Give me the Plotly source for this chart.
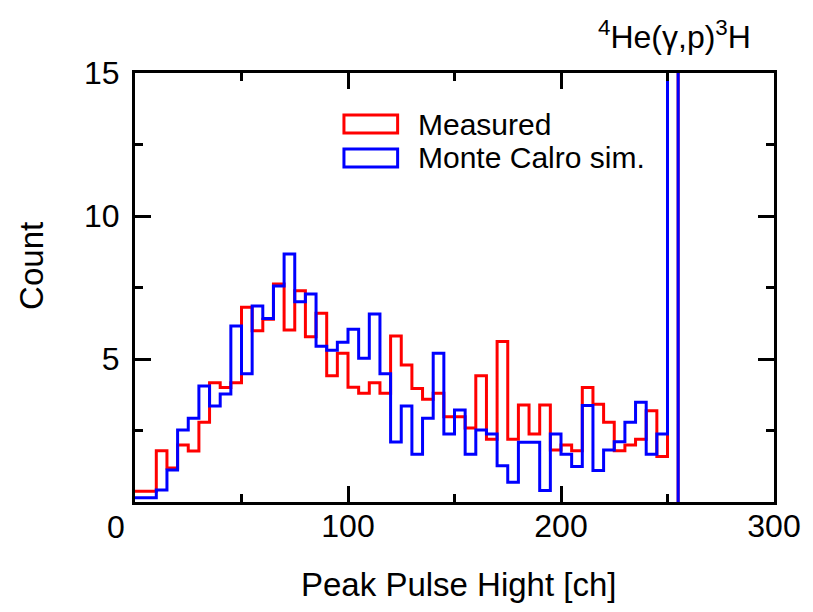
import plotly.graph_objects as go

# ---- data (5 ch bins, 0..255; last bin is the off-scale peak) ----
bin_width = 5
bin_edges = list(range(0, 255, bin_width))  # left edges 0..250
measured = [0.38, 0.38, 1.79, 1.19, 1.99, 1.78, 2.79, 4.17, 4.00, 4.17,
            6.81, 5.99, 6.39, 7.62, 6.01, 7.39, 5.78, 6.60, 4.41, 5.20,
            4.01, 3.80, 4.17, 3.80, 5.80, 4.79, 3.97, 3.59, 3.80, 2.98,
            2.98, 2.59, 4.41, 2.19, 5.61, 2.19, 3.39, 2.38, 3.39, 1.82,
            1.99, 1.79, 4.00, 3.42, 2.79, 1.79, 1.99, 2.19, 3.19, 1.59,
            40.0]
monte_carlo = [0.15, 0.15, 0.42, 1.12, 2.52, 2.93, 4.06, 3.36, 3.78, 6.15,
               4.48, 6.85, 6.42, 7.55, 8.67, 7.00, 7.27, 5.45, 5.31, 5.59,
               6.04, 5.03, 6.57, 4.48, 2.10, 3.36, 1.67, 2.93, 5.20, 2.38,
               3.22, 1.67, 2.52, 2.38, 1.27, 0.69, 2.09, 2.09, 0.40, 2.38,
               1.67, 1.24, 3.37, 1.10, 1.82, 2.11, 2.79, 3.49, 1.67, 2.38,
               40.0]
x_major_ticks = [100, 200, 300]
y_major_ticks = [5, 10, 15]

FONT = "Liberation Sans, Arial, sans-serif"


def step_xy(values):
    # histogram outline: close the last bin back down to zero
    xs = bin_edges + [bin_edges[-1] + bin_width]
    ys = values + [0]
    return xs, ys


fig = go.Figure()
for vals, col, name in [(measured, "#FF0000", "Measured"),
                        (monte_carlo, "#0000FF", "Monte Calro sim.")]:
    xs, ys = step_xy(vals)
    fig.add_trace(go.Scatter(x=xs, y=ys, mode="lines", line_shape="hv",
                             line=dict(color=col, width=3), name=name,
                             showlegend=False))

axis_common = dict(showline=True, linewidth=3, linecolor="black", mirror="ticks",
                   ticks="inside", tickwidth=3, tickcolor="black", ticklen=16,
                   showgrid=False, zeroline=False,
                   tickfont=dict(family=FONT, size=32, color="black"))

fig.update_xaxes(range=[0, 300], tickvals=x_major_ticks,
                 ticktext=[str(v) for v in x_major_ticks],
                 minor=dict(ticks="inside", ticklen=8, tickwidth=3, tickcolor="black",
                            dtick=50, tick0=0, showgrid=False),
                 ticklabelstandoff=-6,
                 **axis_common)
fig.update_yaxes(range=[0, 15], tickvals=y_major_ticks,
                 minor=dict(ticks="inside", ticklen=8, tickwidth=3, tickcolor="black",
                            dtick=2.5, tick0=0, showgrid=False),
                 ticklabelstandoff=6,
                 **axis_common)

ann_font = dict(family=FONT, size=32, color="black")
annotations = [
    dict(text="0", x=0, y=0, xref="x", yref="y", xshift=-19, yshift=-25,
         showarrow=False, font=ann_font, xanchor="center", yanchor="middle"),
    dict(text="Count", x=-0.163, y=0.55, xref="paper", yref="paper", textangle=-90,
         showarrow=False, font=dict(family=FONT, size=33, color="black"),
         xanchor="center", yanchor="middle"),
    dict(text="Peak Pulse Hight [ch]", x=0.507, y=-0.193, xref="paper", yref="paper",
         showarrow=False, font=dict(family=FONT, size=33, color="black"),
         xanchor="center", yanchor="middle"),
    dict(text="<sup>4</sup>He(γ,p)<sup>3</sup>H", x=0.845, y=1.089, xref="paper",
         yref="paper", showarrow=False, font=dict(family=FONT, size=32, color="black"),
         xanchor="center", yanchor="middle"),
    dict(text="Measured", x=0.439, y=0.881, xref="paper", yref="paper",
         showarrow=False, font=dict(family=FONT, size=30, color="black"),
         xanchor="left", yanchor="middle"),
    dict(text="Monte Calro sim.", x=0.439, y=0.802, xref="paper", yref="paper",
         showarrow=False, font=dict(family=FONT, size=30, color="black"),
         xanchor="left", yanchor="middle"),
]

shapes = [
    dict(type="rect", xref="paper", yref="paper", x0=0.327, x1=0.411, y0=0.860, y1=0.902,
         line=dict(color="#FF0000", width=3), fillcolor="rgba(0,0,0,0)"),
    dict(type="rect", xref="paper", yref="paper", x0=0.327, x1=0.411, y0=0.781, y1=0.823,
         line=dict(color="#0000FF", width=3), fillcolor="rgba(0,0,0,0)"),
]

fig.update_layout(width=813, height=612,
                  margin=dict(l=135, r=33, t=73, b=110),
                  paper_bgcolor="white", plot_bgcolor="white",
                  annotations=annotations, shapes=shapes, showlegend=False,
                  font=dict(family=FONT, color="black"))

fig.write_html("out.html")
